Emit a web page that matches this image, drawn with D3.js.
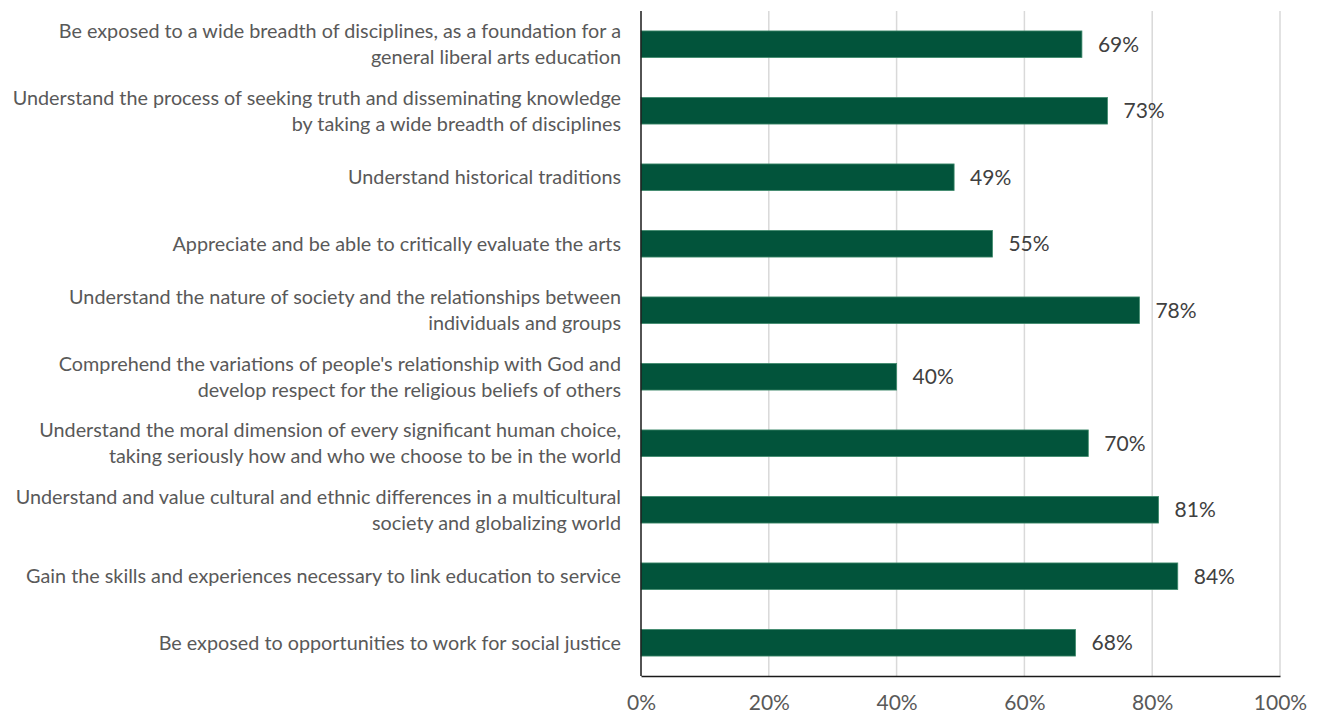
<!DOCTYPE html>
<html>
<head>
<meta charset="utf-8">
<script src="https://cdn.jsdelivr.net/npm/d3@7"></script>
<style>
  html, body { margin: 0; padding: 0; background: #ffffff; }
  svg { display: block; }
</style>
</head>
<body>
<svg id="chart" width="1319" height="719"></svg>
<script>
// Goals and the share of respondents who rated each as important
const categories = [
  ["Be exposed to a wide breadth of disciplines, as a foundation for a", "general liberal arts education"],
  ["Understand the process of seeking truth and disseminating knowledge", "by taking a wide breadth of disciplines"],
  ["Understand historical traditions"],
  ["Appreciate and be able to critically evaluate the arts"],
  ["Understand the nature of society and the relationships between", "individuals and groups"],
  ["Comprehend the variations of people's relationship with God and", "develop respect for the religious beliefs of others"],
  ["Understand the moral dimension of every significant human choice,", "taking seriously how and who we choose to be in the world"],
  ["Understand and value cultural and ethnic differences in a multicultural", "society and globalizing world"],
  ["Gain the skills and experiences necessary to link education to service"],
  ["Be exposed to opportunities to work for social justice"]
];
const values = [69, 73, 49, 55, 78, 40, 70, 81, 84, 68];
const tickValues = [0, 20, 40, 60, 80, 100];

const svg = d3.select("#chart");
const margin = { top: 11, right: 39, bottom: 43, left: 641 };
const width = 1319 - margin.left - margin.right;
const height = 719 - margin.top - margin.bottom;
const fontFamily = "Lato, 'Open Sans', sans-serif";

const g = svg.append("g").attr("transform", `translate(${margin.left},${margin.top})`);

const x = d3.scaleLinear().domain([0, 100]).range([0, width]);
const y = d3.scaleBand().domain(d3.range(values.length)).range([0, height]).paddingInner(0.6).paddingOuter(0.3);

// vertical gridlines
g.selectAll("line.grid")
  .data(tickValues.filter(d => d > 0))
  .join("line")
  .attr("class", "grid")
  .attr("x1", d => x(d)).attr("x2", d => x(d))
  .attr("y1", 0).attr("y2", height)
  .attr("stroke", "#d9d9d9")
  .attr("stroke-width", 1.5);

// bars
g.selectAll("rect.bar")
  .data(values)
  .join("rect")
  .attr("class", "bar")
  .attr("x", 0)
  .attr("y", (d, i) => y(i))
  .attr("width", d => x(d))
  .attr("height", y.bandwidth())
  .attr("fill", "#02543b")
  .attr("stroke", "#3f8a6c")
  .attr("stroke-width", 0.8);

// value labels
g.selectAll("text.value")
  .data(values)
  .join("text")
  .attr("class", "value")
  .attr("x", d => x(d) + 16)
  .attr("y", (d, i) => y(i) + y.bandwidth() / 2)
  .attr("dy", "0.35em")
  .attr("font-family", fontFamily)
  .attr("font-size", 21)
  .attr("fill", "#404040")
  .text(d => d + "%");

// bottom axis
const xAxis = d3.axisBottom(x).tickValues(tickValues).tickFormat(d => d + "%").tickSize(0).tickPadding(19);
const ax = g.append("g").attr("transform", `translate(0,${height})`).call(xAxis);
ax.select(".domain").attr("stroke", "#1a1a1a").attr("stroke-width", 1.5);
ax.selectAll("text")
  .attr("font-family", fontFamily)
  .attr("font-size", 21)
  .attr("fill", "#595959");

// left axis line
g.append("line")
  .attr("x1", 0).attr("x2", 0)
  .attr("y1", 0).attr("y2", height)
  .attr("stroke", "#1a1a1a")
  .attr("stroke-width", 1.5);

// category labels, right-aligned, wrapped into lines
const lineH = 26;
const labels = g.selectAll("text.cat")
  .data(categories)
  .join("text")
  .attr("class", "cat")
  .attr("text-anchor", "end")
  .attr("font-family", fontFamily)
  .attr("font-size", 19.8)
  .attr("fill", "#595959")
  .attr("transform", (d, i) => `translate(-20,${y(i) + y.bandwidth() / 2})`);

labels.each(function(lines) {
  const t = d3.select(this);
  const offset = -(lines.length - 1) * lineH / 2;
  lines.forEach((ln, k) => {
    t.append("tspan")
      .attr("x", 0)
      .attr("y", offset + k * lineH)
      .attr("dy", "0.35em")
      .text(ln);
  });
});
</script>
</body>
</html>
